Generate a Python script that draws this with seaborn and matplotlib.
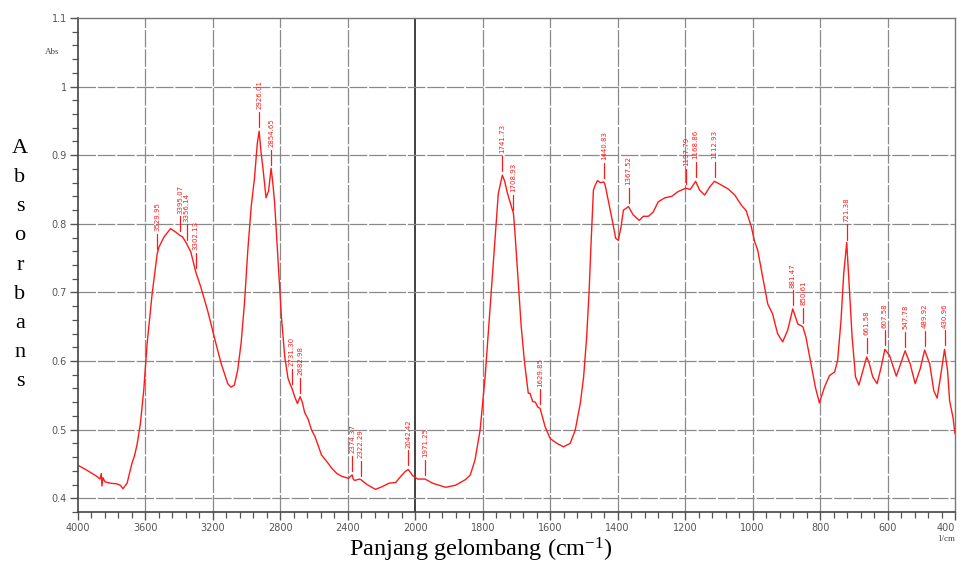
import numpy as np
import matplotlib
matplotlib.use("Agg")
import matplotlib.pyplot as plt
import matplotlib.transforms as mtransforms
from matplotlib.ticker import FixedLocator, NullFormatter
import seaborn as sns

# =================== Data ===================
wavenumber = [
    4000, 3948, 3889, 3870, 3862, 3858, 3852, 3840, 3809, 3770, 3749, 3733, 3709, 3695,
    3680, 3665, 3650, 3630, 3610, 3590, 3560, 3530, 3520, 3490, 3451, 3421, 3395, 3380,
    3356, 3331, 3302, 3272, 3232, 3192, 3152, 3112, 3093, 3073, 3053, 3033, 3013, 2993,
    2973, 2953, 2937, 2926, 2915, 2903, 2885, 2870, 2855, 2845, 2834, 2814, 2794, 2774,
    2755, 2740, 2731, 2715, 2699, 2683, 2670, 2656, 2635, 2616, 2595, 2556, 2520, 2496,
    2465, 2436, 2396, 2380, 2374, 2368, 2360, 2330, 2322, 2286, 2236, 2196, 2156, 2116,
    2086, 2060, 2042, 2030, 2016, 1993, 1971, 1949, 1910, 1881, 1852, 1837, 1823, 1808,
    1793, 1779, 1764, 1754, 1742, 1735, 1727, 1715, 1709, 1705, 1696, 1686, 1676, 1665,
    1660, 1652, 1644, 1637, 1630, 1615, 1600, 1580, 1561, 1541, 1526, 1511, 1501, 1492,
    1485, 1479, 1472, 1467, 1460, 1452, 1441, 1437, 1428, 1416, 1406, 1398, 1390, 1383,
    1368, 1354, 1336, 1324, 1309, 1295, 1280, 1260, 1240, 1221, 1198, 1185, 1169, 1157,
    1142, 1127, 1113, 1098, 1073, 1053, 1033, 1019, 1004, 994, 985, 970, 955, 941,
    926, 911, 896, 881, 866, 851, 842, 827, 814, 802, 787, 772, 757, 748,
    738, 730, 721, 715, 705, 695, 685, 673, 662, 655, 644, 631, 619, 608,
    594, 574, 559, 548, 533, 518, 503, 490, 475, 463, 453, 443, 431, 422,
    416, 406, 400,
]
absorbance = [
    0.448, 0.441, 0.432, 0.428, 0.436, 0.418, 0.430, 0.424, 0.422, 0.421, 0.419, 0.414, 0.422, 0.436,
    0.451, 0.462, 0.478, 0.509, 0.558, 0.626, 0.699, 0.757, 0.766, 0.781, 0.793, 0.788, 0.783, 0.781,
    0.771, 0.759, 0.730, 0.708, 0.674, 0.635, 0.597, 0.567, 0.562, 0.565, 0.587, 0.626, 0.684, 0.762,
    0.825, 0.868, 0.917, 0.935, 0.905, 0.880, 0.838, 0.848, 0.881, 0.860, 0.830, 0.747, 0.665, 0.606,
    0.575, 0.565, 0.560, 0.548, 0.538, 0.548, 0.540, 0.525, 0.515, 0.500, 0.490, 0.463, 0.452, 0.444,
    0.436, 0.432, 0.429, 0.433, 0.434, 0.428, 0.426, 0.428, 0.427, 0.420, 0.413, 0.417, 0.422, 0.423,
    0.432, 0.439, 0.442, 0.438, 0.433, 0.428, 0.428, 0.422, 0.416, 0.419, 0.427, 0.434, 0.456, 0.499,
    0.577, 0.674, 0.776, 0.844, 0.871, 0.862, 0.845, 0.825, 0.815, 0.790, 0.723, 0.650, 0.597, 0.553,
    0.553, 0.541, 0.540, 0.533, 0.531, 0.504, 0.487, 0.480, 0.475, 0.480, 0.499, 0.538, 0.577, 0.635,
    0.699, 0.771, 0.849, 0.856, 0.863, 0.860, 0.861, 0.856, 0.834, 0.805, 0.779, 0.776, 0.796, 0.820,
    0.825, 0.813, 0.805, 0.811, 0.811, 0.817, 0.832, 0.838, 0.840, 0.847, 0.852, 0.850, 0.862, 0.849,
    0.842, 0.854, 0.862, 0.858, 0.851, 0.842, 0.827, 0.819, 0.796, 0.774, 0.762, 0.722, 0.683, 0.669,
    0.640, 0.628, 0.645, 0.676, 0.654, 0.650, 0.635, 0.596, 0.562, 0.539, 0.562, 0.579, 0.584, 0.601,
    0.659, 0.727, 0.773, 0.722, 0.635, 0.577, 0.565, 0.586, 0.606, 0.598, 0.577, 0.567, 0.591, 0.617,
    0.608, 0.578, 0.599, 0.615, 0.596, 0.567, 0.589, 0.616, 0.596, 0.557, 0.546, 0.577, 0.617, 0.586,
    0.542, 0.518, 0.494,
]

peak_labels = [
    "3529.95", "3395.07", "3356.14", "3302.13", "2926.01", "2854.65", "2731.30",
    "2682.98", "2374.37", "2322.29", "2042.42", "1971.25", "1741.73", "1708.93",
    "1629.85", "1440.83", "1367.52", "1197.79", "1168.86", "1112.93", "881.47",
    "850.61", "721.38", "661.58", "607.58", "547.78", "489.92", "430.96",
]

x_major = [4000, 3600, 3200, 2800, 2400, 2000, 1800, 1600, 1400, 1200, 1000, 800, 600, 400]
y_major = [0.4, 0.5, 0.6, 0.7, 0.8, 0.9, 1.0, 1.1]
y_major_labels = ["0.4", "0.5", "0.6", "0.7", "0.8", "0.9", "1", "1.1"]


# =================== Skala sumbu x (2000 ke bawah diperlebar 2x) ===================
def fwd(x):
    x = np.asarray(x, dtype=float)
    return np.where(x > 2000, 2000 + (x - 2000) / 2.0, x)


def inv(u):
    u = np.asarray(u, dtype=float)
    return np.where(u > 2000, 2000 + (u - 2000) * 2.0, u)


sns.set_style("white")
plt.rcParams["font.family"] = ["DejaVu Sans"]
plt.rcParams["mathtext.fontset"] = "custom"
plt.rcParams["mathtext.rm"] = "Liberation Serif"
plt.rcParams["mathtext.default"] = "rm"

fig = plt.figure(figsize=(9.61, 5.65), dpi=100)
ax = fig.add_axes([78 / 961, 1 - 512 / 565, (955 - 78) / 961, (512 - 18) / 565])

sns.lineplot(x=wavenumber, y=absorbance, color="#ff1a1a", lw=1.0, ax=ax,
             estimator=None, sort=True)

ax.set_xscale("function", functions=(fwd, inv))
ax.set_xlim(4000, 400)
ax.set_ylim(0.38, 1.1)

# ticks
ax.xaxis.set_major_locator(FixedLocator(x_major))
ax.set_xticklabels([str(v) for v in x_major])
minor_x = list(np.arange(4000, 2000, -80)) + list(np.arange(2000, 400, -40))
ax.xaxis.set_minor_locator(FixedLocator(minor_x))
ax.xaxis.set_minor_formatter(NullFormatter())
ax.yaxis.set_major_locator(FixedLocator(y_major))
ax.set_yticklabels(y_major_labels)
ax.yaxis.set_minor_locator(FixedLocator(list(np.arange(0.38, 1.1, 0.02))))
ax.yaxis.set_minor_formatter(NullFormatter())

ax.tick_params(axis="both", which="major", direction="out", length=6, width=1.0,
               color="#555555", labelsize=7, labelcolor="#555555", pad=2)
ax.tick_params(axis="both", which="minor", direction="out", length=4, width=0.9,
               color="#555555")
ax.tick_params(axis="x", which="both", bottom=True)
ax.tick_params(axis="y", which="both", left=True)
ax.get_xticklabels()[-1].set_ha("right")

# grid
for v in x_major[1:-1]:
    if v == 2000:
        ax.axvline(v, color="#333333", lw=1.3, zorder=0)
    else:
        ax.axvline(v, color="#8a8a8a", lw=0.9, ls=(0, (14, 1.5)), zorder=0)
for v in y_major[:-1]:
    ax.axhline(v, color="#8a8a8a", lw=0.9, ls=(0, (14, 1.5)), zorder=0)

for side in ["left", "bottom"]:
    ax.spines[side].set_color("#444444")
    ax.spines[side].set_linewidth(1.2)
for side in ["top", "right"]:
    ax.spines[side].set_color("#777777")
    ax.spines[side].set_linewidth(1.0)

ax.set_xlabel("")
ax.set_ylabel("")

# peak labels
for lab in peak_labels:
    w = float(lab)
    base = float(np.interp(w, wavenumber[::-1], absorbance[::-1])) + 0.006
    ax.plot([w, w], [base, base + 0.022], color="#ff1a1a", lw=0.9)
    ax.text(w, base + 0.026, lab, rotation=90, ha="center", va="bottom",
            fontsize=5, color="#ff1a1a")

# "Abs" and "1/cm"
trans_y = mtransforms.blended_transform_factory(ax.transAxes, ax.transData)
ax.text(-0.03, 1.05, "Abs", transform=trans_y, ha="center", va="center",
        fontsize=6.5, color="#444444", family=["Liberation Serif"])
ax.text(0.99, -0.055, "1/cm", transform=ax.transAxes, ha="center", va="center",
        fontsize=6.5, color="#444444", family=["Liberation Serif"])

# big axis titles
fig.text(481 / 961, 1 - 550 / 565, "Panjang gelombang (cm$^{-1}$)", ha="center",
         va="center", fontsize=17.5, family=["Liberation Serif"], color="black")
fig.text(20 / 961, 1 - 265 / 565, "\n".join("Absorbans"), ha="center", va="center",
         fontsize=16, family=["Liberation Serif"], linespacing=1.72, color="black")

fig.savefig("out.png", dpi=100, facecolor="white")
plt.close(fig)
